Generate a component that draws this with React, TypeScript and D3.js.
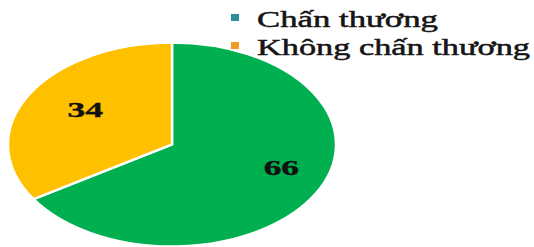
import { useEffect, useRef } from 'react';
import * as d3 from 'd3';

const categories = ['Chấn thương', 'Không chấn thương'];
const values = [66, 34];
const sliceColors = ['#00b050', '#ffc000'];
const legendColors = ['#2e8f9c', '#f39a26'];

export default function App() {
  const svgRef = useRef<SVGSVGElement>(null);

  useEffect(() => {
    if (!svgRef.current) return;
    const width = 534;
    const height = 247;
    const cx = 172;
    const cy = 144.5;
    const ry = 102;
    const rx = 164;

    const svg = d3.select(svgRef.current);
    svg.selectAll('*').remove();

    const data = categories.map((c, i) => ({ name: c, value: values[i], color: sliceColors[i] }));

    const pie = d3.pie<any>().sort(null).value(d => d.value);
    const arc = d3.arc<any>().innerRadius(0).outerRadius(ry);
    const labelArc = d3.arc<any>().innerRadius(ry * 0.66).outerRadius(ry * 0.66);
    // excel "best fit" puts labels a little off the mid-angle
    const nudge = [[9, -10], [5, -3]];

    // circle drawn then stretched into the ellipse of the picture
    const g = svg.append('g')
      .attr('transform', `translate(${cx},${cy}) scale(${rx / ry},1)`);

    g.selectAll('path')
      .data(pie(data))
      .join('path')
      .attr('d', arc)
      .attr('fill', d => d.data.color)
      .attr('stroke', '#fff')
      .attr('stroke-width', 2.5)
      .attr('vector-effect', 'non-scaling-stroke');

    g.selectAll('text')
      .data(pie(data))
      .join('text')
      .attr('transform', (d, i) => {
        const [x, y] = labelArc.centroid(d);
        return `translate(${x + nudge[i][0]},${y + nudge[i][1]})`;
      })
      .attr('text-anchor', 'middle')
      .attr('dy', '0.35em')
      .style('font-family', '"Liberation Serif", "Times New Roman", serif')
      .style('font-weight', 'bold')
      .style('font-size', '22px')
      .style('fill', '#111')
      .style('stroke', '#111')
      .style('stroke-width', 0.4)
      .text(d => d.data.value);

    // legend
    const legend = svg.append('g').attr('transform', 'translate(231,0)');
    const rowY = d3.scalePoint<string>().domain(categories).range([27, 55]);
    const textLen = [181, 273];

    categories.forEach((c, i) => {
      const y = rowY(c)!;
      legend.append('rect')
        .attr('x', 0).attr('y', y - 13)
        .attr('width', 8).attr('height', 7)
        .attr('fill', legendColors[i]);
      legend.append('text')
        .attr('x', 26).attr('y', y)
        .attr('textLength', textLen[i])
        .attr('lengthAdjust', 'spacingAndGlyphs')
        .style('font-family', '"Liberation Serif", "Times New Roman", serif')
        .style('font-size', '23.5px')
        .style('fill', '#151515')
        .style('stroke', '#151515')
        .style('stroke-width', 0.5)
        .text(c);
    });

    svg.attr('width', width).attr('height', height);
  }, []);

  return (
    <div style={{ position: 'absolute', left: 0, top: 0, width: 534, height: 247, background: '#fff' }}>
      <svg ref={svgRef} width={534} height={247}></svg>
    </div>
  );
}
